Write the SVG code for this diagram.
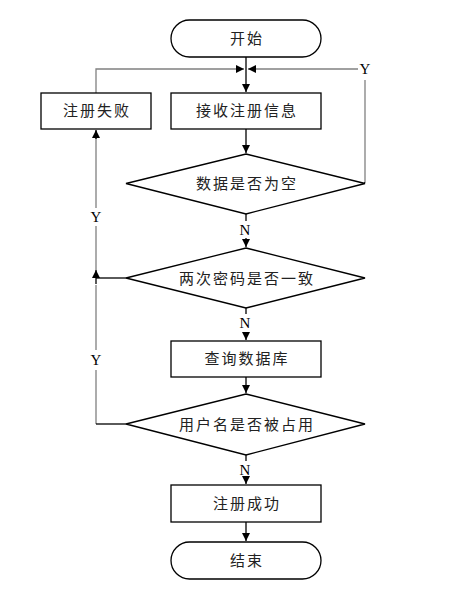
<svg xmlns="http://www.w3.org/2000/svg" width="454" height="591" viewBox="0 0 454 591">
<style>
.s{fill:#fff;stroke:#000;stroke-width:1.3}
.t{font-family:"Noto Sans CJK SC","Noto Sans",sans-serif;font-size:15px;fill:#222;text-anchor:middle;letter-spacing:2px}
.l{font-family:"Liberation Serif",serif;font-size:15px;fill:#000;text-anchor:middle}
.c{fill:none;stroke:#000;stroke-width:1.3}
.g{fill:none;stroke:#808080;stroke-width:1.3}
</style>
<defs>
<marker id="a" viewBox="0 0 10 10" refX="10" refY="5" markerWidth="8" markerHeight="8" markerUnits="userSpaceOnUse" orient="auto"><path d="M0,0L10,5L0,10z" fill="#000"/></marker>
</defs>
<rect width="454" height="591" fill="#fff"/>
<g id="connectors">
<path class="c" d="M246,57V92" marker-end="url(#a)"/>
<path class="g" d="M96,93V69H244" marker-end="url(#a)"/>
<path class="g" d="M358,69H248" marker-end="url(#a)"/>
<path class="g" d="M365,80V183"/>
<line class="c" x1="365" y1="183" x2="364" y2="183"/>
<path class="c" d="M246,129V153" marker-end="url(#a)"/>
<path class="c" d="M246,214V221"/>
<path class="c" d="M246,238V247" marker-end="url(#a)"/>
<path class="c" d="M246,308V314"/>
<path class="c" d="M246,332V340" marker-end="url(#a)"/>
<path class="c" d="M246,377V393" marker-end="url(#a)"/>
<path class="c" d="M246,455V461"/>
<path class="c" d="M246,478V484" marker-end="url(#a)"/>
<path class="c" d="M246,522V541" marker-end="url(#a)"/>
<path class="c" d="M126,278H96"/>
<path class="g" d="M96,424V370M96,350V285"/>
<path class="c" d="M96,284V270" marker-end="url(#a)"/>
<path class="g" d="M96,270V226M96,208V131"/>
<path class="c" d="M96,139V130" marker-end="url(#a)"/>
<path class="c" d="M126,424H96"/>
<text class="l" x="365" y="74">Y</text>
<text class="l" x="96" y="222">Y</text>
<text class="l" x="96" y="365">Y</text>
<text class="l" x="245" y="235">N</text>
<text class="l" x="245" y="328">N</text>
<text class="l" x="245" y="475">N</text>
</g>
<g id="start"><rect class="s" x="171" y="20" width="150" height="37" rx="18.5"/><text class="t" x="247" y="44">开始</text></g>
<g id="receive"><rect class="s" x="171" y="93" width="150" height="36"/><text class="t" x="247" y="116">接收注册信息</text></g>
<g id="fail"><rect class="s" x="41" y="93" width="110" height="36"/><text class="t" x="97" y="116">注册失败</text></g>
<g id="empty"><polygon class="s" points="246,154 365,183.5 246,214 126,183.5"/><text class="t" x="247" y="189">数据是否为空</text></g>
<g id="same"><polygon class="s" points="246,248 365,278 246,308 126,278"/><text class="t" x="247" y="284">两次密码是否一致</text></g>
<g id="query"><rect class="s" x="171" y="341" width="150" height="36"/><text class="t" x="247" y="364">查询数据库</text></g>
<g id="used"><polygon class="s" points="246,394 365,424 246,455 126,424"/><text class="t" x="247" y="430">用户名是否被占用</text></g>
<g id="ok"><rect class="s" x="171" y="485" width="150" height="37"/><text class="t" x="247" y="509">注册成功</text></g>
<g id="end"><rect class="s" x="171" y="542" width="150" height="37" rx="18.5"/><text class="t" x="247" y="566">结束</text></g>
</svg>
